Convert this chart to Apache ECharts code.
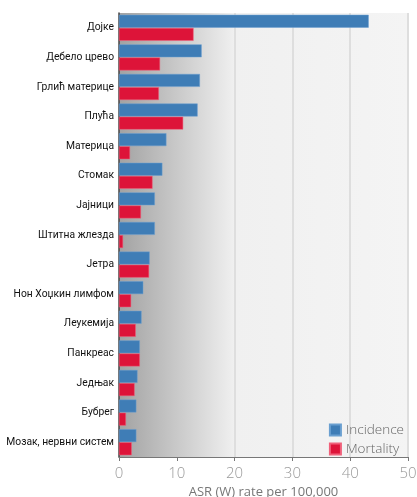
<!DOCTYPE html>
<html>
<head>
<meta charset="utf-8">
<script src="https://cdn.jsdelivr.net/npm/echarts@6/dist/echarts.min.js"></script>
<style>
html,body{margin:0;padding:0;background:#fff;}
#chart{width:417px;height:497px;}
</style>
</head>
<body>
<div id="chart"></div>
<script>
var categories = ['Дојке','Дебело црево','Грлић материце','Плућа','Материца','Стомак','Јајници','Штитна жлезда','Јетра','Нон Хоџкин лимфом','Леукемија','Панкреас','Једњак','Бубрег','Мозак, нервни систем'];
var incidence = [43.2,14.3,14.0,13.6,8.2,7.5,6.2,6.2,5.3,4.2,3.9,3.6,3.2,3.0,3.0];
var mortality = [12.9,7.1,6.9,11.1,1.9,5.8,3.8,0.7,5.2,2.1,2.9,3.6,2.7,1.2,2.2];
var xTicks = [0,10,20,30,40,50];

var chart = echarts.init(document.getElementById('chart'));
chart.setOption({
  animation:false,
  backgroundColor:'#ffffff',
  grid:{
    left:119, right:9, top:13, bottom:40,
    outerBoundsMode:'none', containLabel:false,
    show:true, borderWidth:0,
    backgroundColor:{
      type:'linear', x:0, y:0, x2:1, y2:0,
      colorStops:[
        {offset:0, color:'#a2a2a2'},
        {offset:0.4, color:'#f0f0f0'},
        {offset:1, color:'#f4f4f4'}
      ]
    }
  },
  legend:{
    orient:'vertical',
    right:8, top:418,
    itemWidth:11, itemHeight:11, itemGap:5,
    icon:'rect',
    textStyle:{color:'#666', fontSize:13.5, fontFamily:'Open Sans', fontWeight:300},
    data:['Incidence','Mortality']
  },
  xAxis:{
    type:'value', min:xTicks[0], max:xTicks[xTicks.length-1], interval:10,
    name:'ASR (W) rate per 100,000', nameLocation:'middle', nameGap:25,
    nameTextStyle:{color:'#777', fontSize:13, fontFamily:'Open Sans'},
    axisLine:{show:true, lineStyle:{color:'#777', width:1}},
    axisTick:{show:true, length:4, lineStyle:{color:'#777'}},
    axisLabel:{color:'#999', fontSize:15, fontFamily:'Open Sans', fontWeight:300, margin:9},
    splitLine:{show:true, lineStyle:{color:['rgba(0,0,0,0)','rgba(0,0,0,0)','#dedede','#dedede','#dedede','#dedede'], width:2}}
  },
  yAxis:{
    type:'category', data:categories, inverse:true,
    axisLine:{show:true, lineStyle:{color:'#444', width:1.5}},
    axisTick:{show:false},
    axisLabel:{color:'#111', fontSize:10.3, fontFamily:'Roboto', margin:5},
    splitLine:{show:false}
  },
  series:[
    {name:'Incidence', type:'bar', data:incidence, barGap:'2%', barCategoryGap:'12%',
     itemStyle:{color:'#3f7db6', borderColor:'#6a9fd0', borderWidth:0.5}},
    {name:'Mortality', type:'bar', data:mortality, barGap:'2%', barCategoryGap:'12%',
     itemStyle:{color:'#dd1439', borderColor:'#f0607a', borderWidth:0.5}}
  ]
});
</script>
</body>
</html>
